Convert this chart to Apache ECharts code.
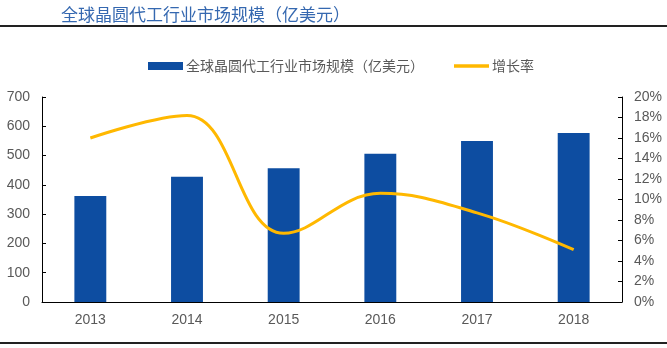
<!DOCTYPE html>
<html><head><meta charset="utf-8">
<script src="https://cdn.jsdelivr.net/npm/echarts@6/dist/echarts.min.js"></script>
<style>html,body{margin:0;padding:0;background:#fff}#c{width:667px;height:348px}</style>
</head><body><div id="c"></div>
<script>
const years = ['2013','2014','2015','2016','2017','2018'];
const marketSize = [362, 428, 457, 506, 550, 577];
const growthRate = [16.0, 18.2, 6.7, 10.6, 8.7, 5.1];
const barName = '全球晶圆代工行业市场规模（亿美元）';
const lineName = '增长率';
const titleText = '全球晶圆代工行业市场规模（亿美元）';

const chart = echarts.init(document.getElementById('c'));
const axisTextColor = '#595959';
const font = '"Noto Sans CJK SC", sans-serif';
const numFont = '"Liberation Sans", Arial, sans-serif';
chart.setOption({
  animation: false,
  title: {
    text: titleText, left: 56, top: 1,
    textStyle: { fontSize: 17, fontWeight: 'normal', color: '#3568B0', fontFamily: font }
  },
  graphic: [
    { type: 'rect', shape: { x: 0, y: 25, width: 667, height: 2 }, style: { fill: '#222' } },
    { type: 'rect', shape: { x: 0, y: 342, width: 667, height: 2 }, style: { fill: '#222' } }
  ],
  legend: {
    top: 54, left: 143, itemGap: 30, itemWidth: 35, itemHeight: 8,
    textStyle: { fontSize: 14, color: axisTextColor, fontFamily: font, padding: [0,0,0,-2] },
    data: [
      { name: barName, icon: 'rect' },
      { name: lineName, icon: 'path://M0,0 L10,0 L10,1 L0,1 Z' }
    ]
  },
  grid: { left: 42, right: 45, top: 97, bottom: 46, containLabel: false },
  xAxis: {
    type: 'category', data: years,
    axisLine: { lineStyle: { color: '#000', width: 1 } },
    axisTick: { inside: true, length: 4, lineStyle: { color: '#000' } },
    axisLabel: { color: axisTextColor, fontSize: 14, margin: 11, fontFamily: numFont }
  },
  yAxis: [
    {
      type: 'value', min: 0, max: 700, interval: 100,
      axisLine: { show: true, lineStyle: { color: '#000' } },
      axisTick: { show: true, inside: true, length: 4, lineStyle: { color: '#000' } },
      splitLine: { show: false },
      axisLabel: { color: axisTextColor, fontSize: 14, margin: 12, fontFamily: numFont }
    },
    {
      type: 'value', min: 0, max: 20, interval: 2,
      axisLine: { show: true, lineStyle: { color: '#000' } },
      axisTick: { show: true, inside: true, length: 4, lineStyle: { color: '#000' } },
      splitLine: { show: false },
      axisLabel: { color: axisTextColor, fontSize: 14, margin: 12, formatter: '{value}%', fontFamily: numFont }
    }
  ],
  series: [
    {
      name: barName, type: 'bar', data: marketSize, barWidth: '33%',
      itemStyle: { color: '#0D4DA1' }
    },
    {
      name: lineName, type: 'line', yAxisIndex: 1, data: growthRate,
      smooth: 0.4, symbol: 'none',
      lineStyle: { color: '#FFB800', width: 3 },
      itemStyle: { color: '#FFB800' }
    }
  ]
});
</script></body></html>
